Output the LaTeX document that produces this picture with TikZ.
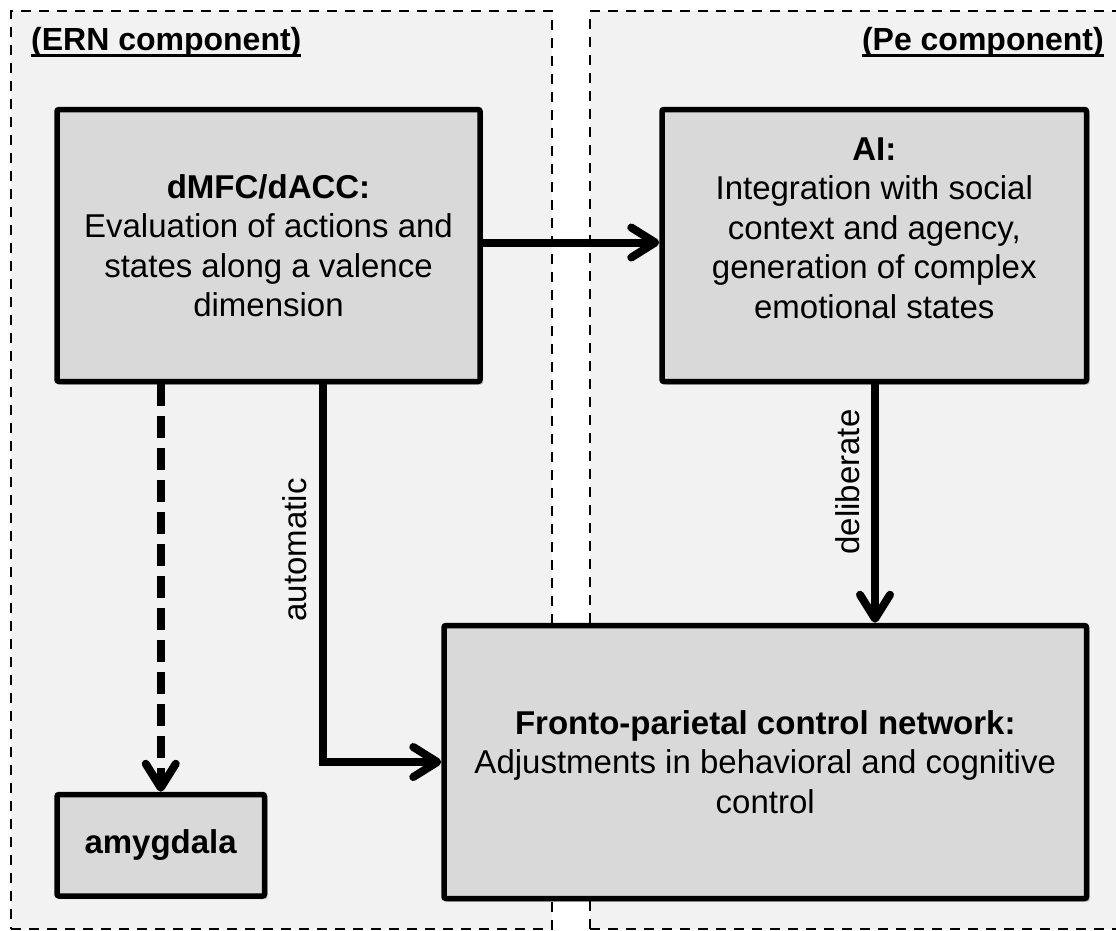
\documentclass[tikz,border=0pt]{standalone}
\usepackage{fontspec}
\setmainfont{Liberation Sans}
\usetikzlibrary{arrows.meta,shadows}
\definecolor{panelfill}{HTML}{F2F2F2}
\definecolor{boxfill}{HTML}{D9D9D9}
\newcommand{\ulbold}[1]{\setbox0\hbox{\bfseries #1}\rlap{\rule[-7pt]{\wd0}{3.5pt}}\box0}
\newcommand{\bodyfont}{\fontsize{33}{39.5}\selectfont}
\begin{document}
\begin{tikzpicture}[x=1pt,y=-1pt,
  panel/.style={draw=black, fill=panelfill, line width=2.2pt, dash pattern=on 10pt off 8pt, inner sep=0pt},
  region/.style={draw=black, fill=boxfill, line width=5.5pt, rounded corners=2pt, inner sep=0pt,
    font=\bodyfont, align=center,
    drop shadow={shadow xshift=3pt, shadow yshift=-3pt, opacity=0.22, fill=black}},
  txt/.style={font=\bodyfont, align=center, inner sep=0pt},
  heading/.style={font=\fontsize{32}{38}\selectfont, inner sep=0pt},
  lbl/.style={font=\bodyfont, inner sep=0pt},
  conn/.style={draw=black, line width=8pt, -{Straight Barb[length=24pt,width=30pt,round]}},
  dashconn/.style={conn, dash pattern=on 22pt off 10pt}]
\useasboundingbox (0,0) rectangle (1116,930);
\fill[white] (0,0) rectangle (1116,930);
% panels
\node[panel, minimum width=541pt, minimum height=918pt, anchor=north west] (ernpanel) at (10,10) {};
\node[panel, minimum width=545pt, minimum height=918pt, anchor=north west] (pepanel) at (589,10) {};
% headings
\node[heading, anchor=base west] (ernhead) at (31,50) {\ulbold{(ERN component)}};
\node[heading, anchor=base east] (pehead) at (1104,50) {\ulbold{(Pe component)}};
% boxes
\node[region, minimum width=423pt, minimum height=272pt] (dmfc) at (268.5,245.5)
  {\textbf{dMFC/dACC:}\\Evaluation of actions and\\states along a valence\\dimension};
\node[region, minimum width=424.5pt, minimum height=272pt] (ai) at (874.25,245.5) {};
\node[txt] (aitext) at (874.25,228)
  {\textbf{AI:}\\Integration with social\\context and agency,\\generation of complex\\emotional states};
\node[region, minimum width=642.5pt, minimum height=273pt] (fronto) at (765.25,762)
  {\textbf{Fronto-parietal control network:}\\Adjustments in behavioral and cognitive\\control};
\node[region, minimum width=207.5pt, minimum height=101.5pt] (amyg) at (160.75,845.25)
  {\raisebox{-3pt}{\textbf{amygdala}}};
% connector positions
\coordinate (autox) at (323,0);
\coordinate (delx) at (875,0);
% connectors
\draw[conn] ([yshift=3pt]dmfc.east) -- ([yshift=3pt]ai.west);
\draw[dashconn] (amyg.north |- dmfc.south) -- (amyg.north);
\draw[conn] (dmfc.south -| autox) |- (fronto.west);
\draw[conn] (ai.south -| delx) -- (fronto.north -| delx);
% labels
\node[lbl, rotate=90] (autolbl) at (295,550) {automatic};
\node[lbl, rotate=90] (dellbl) at (848,482) {deliberate};
\end{tikzpicture}
\end{document}
